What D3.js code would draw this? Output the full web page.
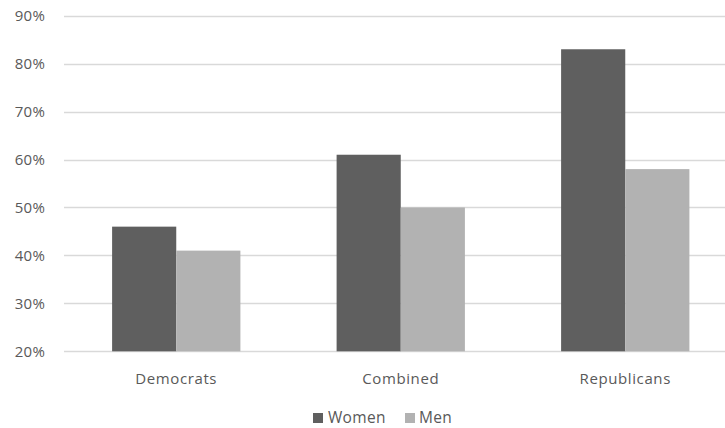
<!DOCTYPE html>
<html>
<head>
<meta charset="utf-8">
<script src="https://cdn.jsdelivr.net/npm/d3@7"></script>
<style>
  html, body { margin: 0; padding: 0; background: #fff; }
  svg text { font-family: "Open Sans", "Liberation Sans", sans-serif; fill: #595959; }
</style>
</head>
<body>
<svg id="chart" width="725" height="428"></svg>
<script>
const categories = ["Democrats", "Combined", "Republicans"];
const seriesNames = ["Women", "Men"];
const women = [0.46, 0.61, 0.83];
const men = [0.41, 0.50, 0.58];
const yTicks = [0.2, 0.3, 0.4, 0.5, 0.6, 0.7, 0.8, 0.9];
const colors = ["#5f5f5f", "#b2b2b2"];

const svg = d3.select("#chart");
const W = 725;

const x = d3.scaleBand().domain(categories).range([64, 737.5])
  .paddingInner(1.5 / 3.5).paddingOuter(0.75 / 3.5);
const x1 = d3.scaleBand().domain(seriesNames).range([0, x.bandwidth()]);
const y = d3.scaleLinear().domain([0.2, 0.9]).range([351.3, 15.7]);

// gridlines
svg.append("g").selectAll("line").data(yTicks).join("line")
  .attr("x1", 64).attr("x2", W)
  .attr("y1", d => Math.round(y(d)) + 0.5).attr("y2", d => Math.round(y(d)) + 0.5)
  .attr("stroke", "#d9d9d9").attr("stroke-width", 1.5);

// y axis labels
svg.append("g").selectAll("text").data(yTicks).join("text")
  .attr("x", 45).attr("y", d => y(d)).attr("dy", "0.36em")
  .attr("text-anchor", "end").attr("font-size", 15).attr("letter-spacing", 0.2)
  .text(d => d3.format(".0%")(d));

const series = [women, men];
const g = svg.append("g");
categories.forEach((c, i) => {
  series.forEach((vals, s) => {
    g.append("rect")
      .attr("x", x(c) + x1(seriesNames[s]))
      .attr("y", y(vals[i]))
      .attr("width", x1.bandwidth())
      .attr("height", y(0.2) - y(vals[i]))
      .attr("fill", colors[s]);
  });
});

// x labels
svg.append("g").selectAll("text").data(categories).join("text")
  .attr("x", d => x(d) + x.bandwidth() / 2).attr("y", 383.5)
  .attr("text-anchor", "middle").attr("font-size", 15).attr("letter-spacing", 0.6)
  .text(d => d);

// legend
const legendItems = [
  { name: "Women", color: colors[0], sx: 313, tx: 328 },
  { name: "Men", color: colors[1], sx: 405, tx: 419 }
];
const lg = svg.append("g");
legendItems.forEach(it => {
  lg.append("rect").attr("x", it.sx).attr("y", 413).attr("width", 10).attr("height", 10).attr("fill", it.color);
  lg.append("text").attr("x", it.tx).attr("y", 423).attr("font-size", 15.5).attr("letter-spacing", 0.3).text(it.name);
});
</script>
</body>
</html>
